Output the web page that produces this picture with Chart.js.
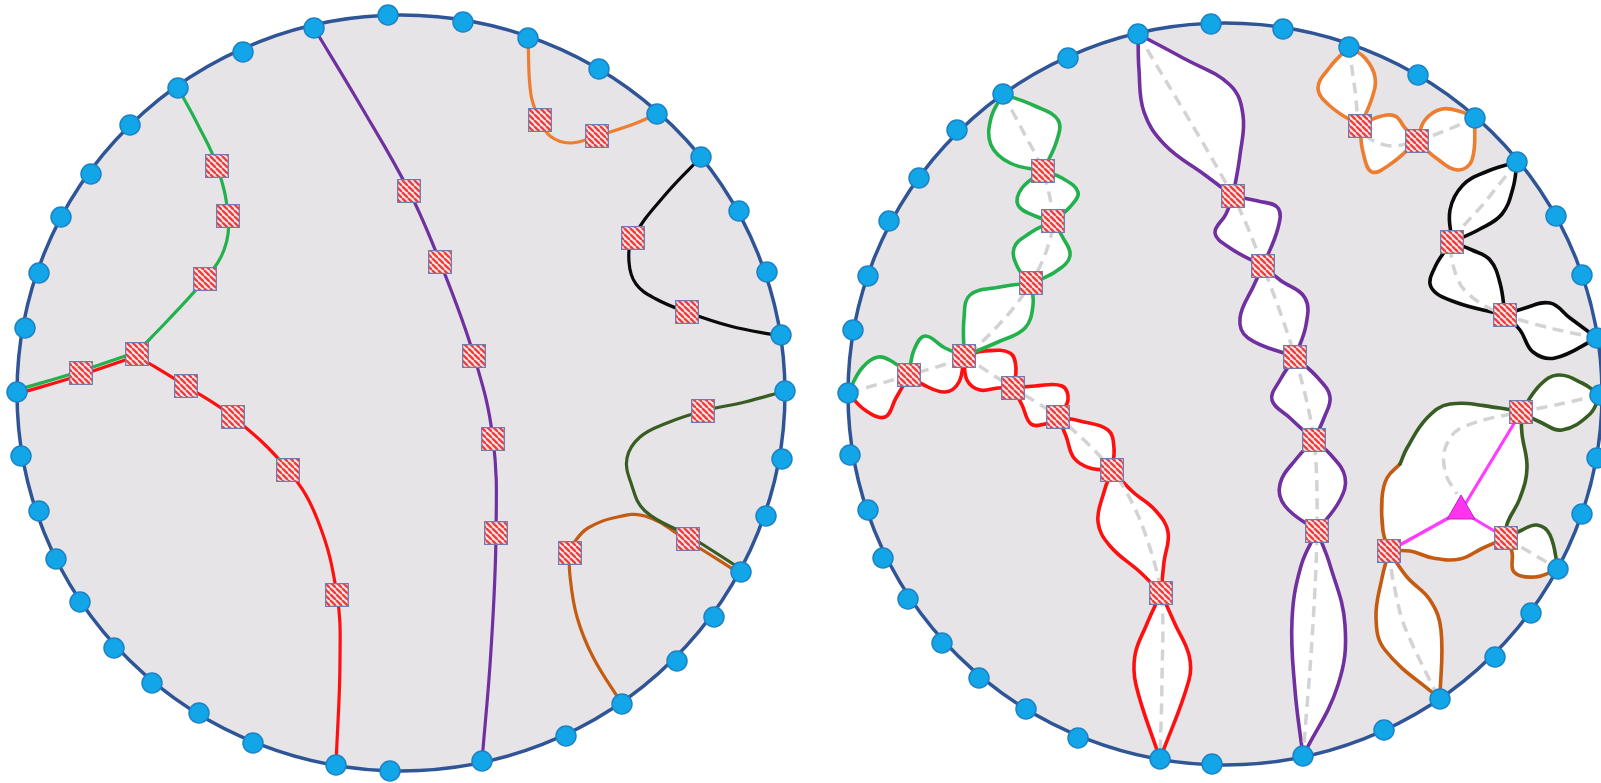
<!DOCTYPE html>
<html>
<head>
<meta charset="utf-8">
<script src="https://cdn.jsdelivr.net/npm/chart.js@4.4.0/dist/chart.umd.min.js"></script>
<style>
  html, body { margin: 0; padding: 0; background: #ffffff; }
  #wrap { width: 1601px; height: 783px; }
</style>
</head>
<body>
<div id="wrap"><canvas id="grafico"></canvas></div>
<script>
// the two discs: centre and radii (x, y)
const circleCenters = [[401, 393], [1225, 394]];
const circleRadii = [[384, 378], [377, 371]];

// boundary nodes
const dotsLeft = [
  [388, 15], [463, 22], [528, 38], [599, 69], [657, 114], [701, 157], [739, 211], [767, 272],
  [781, 335], [785, 391], [782, 459], [766, 516], [741, 572], [714, 617], [677, 661], [622, 704],
  [566, 736], [482, 761], [390, 771], [336, 765], [253, 743], [199, 713], [152, 683], [114, 648],
  [80, 602], [56, 559], [39, 511], [21, 456], [17, 392], [25, 328], [39, 273], [61, 217],
  [91, 174], [130, 125], [178, 88], [243, 52], [314, 28]
];
const dotsRight = [
  [1211, 24], [1283, 29], [1349, 47], [1418, 75], [1475, 118], [1517, 162], [1556, 216], [1582, 275],
  [1597, 338], [1600, 395], [1597, 458], [1582, 514], [1558, 569], [1531, 613], [1495, 657], [1440, 699],
  [1384, 730], [1303, 756], [1212, 764], [1160, 759], [1078, 738], [1026, 709], [979, 678], [942, 643],
  [908, 599], [883, 558], [868, 510], [850, 455], [848, 393], [853, 330], [868, 276], [889, 221],
  [919, 178], [957, 130], [1003, 94], [1068, 58], [1138, 34]
];

// hatched squares
const squaresLeft = [
  [217, 166], [228, 216], [205, 279], [137, 354], [81, 373],
  [186, 386], [233, 417], [288, 470], [337, 595],
  [409, 191], [440, 262], [474, 356], [493, 439], [496, 533],
  [540, 120], [597, 136], [633, 238], [687, 312], [703, 411], [688, 539], [570, 553]
];
const squaresRight = [
  [1043, 171], [1053, 221], [1031, 283], [964, 356], [909, 375],
  [1013, 388], [1058, 417], [1112, 470], [1161, 593],
  [1233, 196], [1263, 266], [1295, 357], [1314, 440], [1317, 531],
  [1360, 126], [1417, 141], [1452, 242], [1505, 315], [1521, 412], [1506, 538], [1389, 551]
];
const trianglePos = [[1461, 511]];

// left disc: the plain curves
const curvesLeft = [
  ['green', [[178, 88], [198, 125], [217, 166], [228, 216], [224, 250], [205, 279], [170, 318], [137, 352], [137, 352], [81, 371], [17, 390]]],
  ['red', [[17, 394], [81, 375], [137, 356], [137, 356], [186, 386], [233, 417], [288, 470], [318, 521], [337, 595], [340, 660], [336, 765]]],
  ['purple', [[314, 28], [362, 108], [409, 191], [440, 262], [474, 356], [493, 439], [496, 533], [491, 650], [482, 761]]],
  ['orange', [[528, 40], [531, 95], [540, 120], [550, 136], [570, 143], [597, 136], [634, 124], [657, 114]]],
  ['black', [[701, 157], [665, 195], [633, 238], [629, 262], [636, 284], [656, 299], [687, 312], [730, 326], [780, 336]]],
  ['darkgreen', [[785, 391], [745, 402], [703, 411], [667, 423], [640, 437], [627, 458], [631, 483], [645, 511], [689, 536], [741, 569]]],
  ['brown', [[622, 704], [593, 657], [577, 617], [570, 576], [570, 553], [576, 540], [588, 528], [613, 518], [645, 516], [688, 541], [739, 573]]]
];

// right disc: dashed skeleton
const dashedRight = [
  [[1003, 94], [1025, 135], [1043, 171], [1053, 221], [1046, 252], [1031, 283], [1005, 318], [964, 356], [909, 375], [848, 393]],
  [[964, 356], [1013, 388], [1058, 417], [1112, 470], [1140, 520], [1161, 593], [1162, 680], [1160, 759]],
  [[1138, 34], [1233, 196], [1263, 266], [1295, 357], [1314, 440], [1317, 531], [1312, 640], [1303, 756]],
  [[1349, 47], [1355, 90], [1360, 126], [1372, 140], [1392, 146], [1417, 141], [1447, 130], [1475, 118]],
  [[1517, 162], [1485, 202], [1452, 242], [1453, 265], [1462, 287], [1480, 303], [1505, 315], [1550, 328], [1597, 338]],
  [[1600, 395], [1560, 404], [1521, 412], [1480, 421], [1455, 432], [1444, 452], [1446, 475], [1457, 494]],
  [[1506, 538], [1558, 569]],
  [[1389, 551], [1447, 519]],
  [[1389, 551], [1393, 580], [1404, 625], [1438, 697]]
];
const magentaLinks = [
  [[1521, 412], [1461, 511]],
  [[1389, 551], [1461, 511]],
  [[1506, 538], [1461, 511]]
];

// right disc: lenses, two sides from end A to end B
const lenses = [
  { keys: ['green', 'green'], sides: [[[1003, 94], [991, 118], [991, 145], [1010, 163], [1043, 171]], [[1003, 94], [1035, 106], [1058, 120], [1057, 140], [1043, 171]]] },
  { keys: ['green', 'green'], sides: [[[1043, 171], [1022, 188], [1018, 205], [1035, 216], [1053, 221]], [[1043, 171], [1062, 178], [1078, 192], [1070, 207], [1053, 221]]] },
  { keys: ['green', 'green'], sides: [[[1053, 221], [1030, 233], [1014, 248], [1018, 268], [1031, 283]], [[1053, 221], [1062, 236], [1070, 256], [1055, 272], [1031, 283]]] },
  { keys: ['green', 'green'], sides: [[[1031, 283], [1000, 287], [970, 295], [964, 318], [964, 356]], [[1031, 283], [1033, 305], [1025, 328], [998, 342], [964, 356]]] },
  { keys: ['green', 'red'], sides: [[[964, 356], [945, 348], [925, 336], [914, 350], [909, 375]], [[964, 356], [959, 382], [945, 392], [922, 384], [909, 375]]] },
  { keys: ['green', 'red'], sides: [[[909, 375], [893, 362], [878, 357], [862, 368], [848, 393]], [[909, 375], [896, 398], [885, 417], [865, 410], [848, 393]]] },
  { keys: ['red', 'red'], sides: [[[964, 356], [985, 351], [1010, 353], [1016, 368], [1013, 388]], [[964, 356], [967, 380], [980, 390], [998, 388], [1013, 388]]] },
  { keys: ['red', 'red'], sides: [[[1013, 388], [1035, 386], [1062, 386], [1068, 400], [1058, 417]], [[1013, 388], [1022, 405], [1031, 424], [1045, 424], [1058, 417]]] },
  { keys: ['red', 'red'], sides: [[[1058, 417], [1080, 421], [1108, 430], [1114, 448], [1112, 470]], [[1058, 417], [1066, 436], [1074, 458], [1090, 468], [1112, 470]]] },
  { keys: ['red', 'red'], sides: [[[1112, 470], [1104, 492], [1098, 522], [1110, 546], [1140, 572], [1161, 593]], [[1112, 470], [1133, 492], [1155, 510], [1168, 532], [1164, 562], [1161, 593]]] },
  { keys: ['red', 'red'], sides: [[[1161, 593], [1146, 626], [1135, 655], [1136, 685], [1160, 759]], [[1161, 593], [1175, 624], [1189, 655], [1189, 680], [1160, 759]]] },
  { keys: ['purple', 'purple'], sides: [[[1138, 34], [1139, 70], [1144, 112], [1165, 145], [1205, 175], [1233, 196]], [[1138, 34], [1183, 58], [1230, 85], [1243, 115], [1240, 155], [1233, 196]]] },
  { keys: ['purple', 'purple'], sides: [[[1233, 196], [1258, 201], [1278, 208], [1278, 228], [1263, 266]], [[1233, 196], [1226, 214], [1215, 233], [1230, 248], [1263, 266]]] },
  { keys: ['purple', 'purple'], sides: [[[1263, 266], [1280, 280], [1305, 298], [1306, 325], [1295, 357]], [[1263, 266], [1254, 285], [1240, 318], [1248, 338], [1295, 357]]] },
  { keys: ['purple', 'purple'], sides: [[[1295, 357], [1280, 380], [1272, 400], [1290, 418], [1314, 440]], [[1295, 357], [1318, 378], [1330, 397], [1324, 418], [1314, 440]]] },
  { keys: ['purple', 'purple'], sides: [[[1314, 440], [1331, 455], [1345, 477], [1340, 500], [1317, 531]], [[1314, 440], [1297, 458], [1280, 484], [1285, 506], [1317, 531]]] },
  { keys: ['purple', 'purple'], sides: [[[1317, 531], [1301, 566], [1292, 620], [1295, 690], [1303, 756]], [[1317, 531], [1330, 565], [1345, 625], [1338, 685], [1303, 756]]] },
  { keys: ['orange', 'orange'], sides: [[[1349, 47], [1330, 67], [1318, 88], [1330, 106], [1360, 126]], [[1349, 47], [1365, 58], [1375, 77], [1372, 98], [1360, 126]]] },
  { keys: ['orange', 'orange'], sides: [[[1360, 126], [1378, 117], [1395, 116], [1405, 128], [1417, 141]], [[1360, 126], [1363, 152], [1372, 172], [1392, 163], [1417, 141]]] },
  { keys: ['orange', 'orange'], sides: [[[1417, 141], [1425, 120], [1442, 109], [1462, 112], [1475, 118]], [[1417, 141], [1436, 158], [1458, 170], [1472, 160], [1475, 118]]] },
  { keys: ['black', 'black'], sides: [[[1517, 162], [1488, 171], [1463, 185], [1450, 210], [1452, 242]], [[1517, 162], [1513, 188], [1502, 214], [1480, 229], [1452, 242]]] },
  { keys: ['black', 'black'], sides: [[[1452, 242], [1436, 265], [1431, 287], [1455, 302], [1505, 315]], [[1452, 242], [1472, 250], [1490, 260], [1500, 283], [1505, 315]]] },
  { keys: ['black', 'black'], sides: [[[1505, 315], [1522, 309], [1550, 303], [1570, 318], [1597, 338]], [[1505, 315], [1520, 330], [1533, 352], [1555, 358], [1597, 338]]] },
  { keys: ['darkgreen', 'darkgreen'], sides: [[[1521, 412], [1540, 385], [1558, 375], [1582, 383], [1600, 395]], [[1521, 412], [1540, 422], [1562, 430], [1590, 414], [1600, 395]]] },
  { keys: ['darkgreen', 'brown'], sides: [[[1506, 538], [1520, 531], [1537, 525], [1550, 535], [1558, 569]], [[1506, 538], [1512, 552], [1514, 572], [1535, 577], [1558, 569]]] },
  { keys: ['brown', 'brown'], sides: [[[1389, 551], [1382, 578], [1376, 618], [1385, 650], [1440, 699]], [[1389, 551], [1407, 577], [1430, 600], [1441, 630], [1440, 699]]] }
];

// the three-armed region round the triangle
const bigRegion = [
  ['darkgreen', [[1521, 412], [1500, 408], [1450, 404], [1427, 418], [1407, 448], [1400, 464]]],
  ['brown', [[1400, 464], [1387, 478], [1382, 498], [1383, 531], [1389, 551]]],
  ['brown', [[1389, 551], [1410, 551], [1433, 558], [1460, 559], [1483, 548], [1506, 538]]],
  ['darkgreen', [[1506, 538], [1507, 524], [1520, 498], [1527, 468], [1522, 434], [1521, 412]]]
];

const colours = {
  green: '#22b14c',
  red: '#ff1010',
  purple: '#7030a0',
  orange: '#ed7d31',
  black: '#0a0a0a',
  darkgreen: '#375d23',
  brown: '#c55a11'
};

function toXY(pts) {
  return pts.map(p => ({ x: p[0], y: p[1] }));
}

function hatch() {
  let s = 6;
  let c = document.createElement('canvas');
  c.width = s;
  c.height = s;
  let g = c.getContext('2d');
  g.fillStyle = '#fde6e6';
  g.fillRect(0, 0, s, s);
  g.strokeStyle = '#ee3e3e';
  g.lineWidth = 2.3;
  for (let k = -1; k <= 1; k++) {
    g.beginPath();
    g.moveTo(k * s, 0);
    g.lineTo(k * s + s, s);
    g.stroke();
  }
  return g.createPattern(c, 'repeat');
}

function curve(pts, colour, width, order, extra) {
  return Object.assign({
    data: toXY(pts),
    borderColor: colour,
    borderWidth: width,
    borderCapStyle: 'round',
    borderJoinStyle: 'round',
    pointRadius: 0,
    tension: 0.4,
    fill: false,
    order: order
  }, extra || {});
}

function whiteShape(pts) {
  return curve(pts, 'rgba(0,0,0,0)', 0, 60, { fill: 'shape', backgroundColor: '#ffffff' });
}

let datasets = [];

// lens fills
lenses.forEach(l => {
  datasets.push(whiteShape(l.sides[0].concat(l.sides[1].slice().reverse())));
});
let regionPts = [];
bigRegion.forEach(part => { regionPts = regionPts.concat(part[1]); });
datasets.push(whiteShape(regionPts));

// left curves
curvesLeft.forEach(c => datasets.push(curve(c[1], colours[c[0]], 3.2, 50)));

// lens outlines
lenses.forEach(l => {
  datasets.push(curve(l.sides[0], colours[l.keys[0]], 3.6, 40));
  datasets.push(curve(l.sides[1], colours[l.keys[1]], 3.6, 40));
});
bigRegion.forEach(part => datasets.push(curve(part[1], colours[part[0]], 3.6, 40)));

// dashed skeleton and magenta links
dashedRight.forEach(d => datasets.push(curve(d, '#d3d3d3', 3.5, 30, { borderDash: [11, 7], borderCapStyle: 'butt', tension: 0.3 })));
magentaLinks.forEach(m => datasets.push(curve(m, '#ff3cff', 3.2, 20, { tension: 0 })));

// nodes
datasets.push({
  data: toXY(dotsLeft.concat(dotsRight)),
  showLine: false,
  pointStyle: 'circle',
  pointRadius: 10,
  pointBackgroundColor: '#12a6e8',
  pointBorderColor: '#1b83c6',
  pointBorderWidth: 1.5,
  order: 10
});
datasets.push({
  data: toXY(squaresLeft.concat(squaresRight)),
  showLine: false,
  pointStyle: 'rect',
  pointRadius: 16,
  pointBackgroundColor: hatch(),
  pointBorderColor: '#7479ab',
  pointBorderWidth: 1.3,
  order: 5
});
datasets.push({
  data: toXY(trianglePos),
  showLine: false,
  pointStyle: 'triangle',
  pointRadius: 16,
  pointBackgroundColor: '#ff33f0',
  pointBorderColor: '#c020c0',
  pointBorderWidth: 1,
  order: 1
});

// grey discs with blue rim, drawn through the scales
const discs = {
  id: 'discs',
  beforeDatasetsDraw(chart) {
    let ctx = chart.ctx;
    let sx = chart.scales.x;
    let sy = chart.scales.y;
    ctx.save();
    circleCenters.forEach((c, i) => {
      let px = sx.getPixelForValue(c[0]);
      let py = sy.getPixelForValue(c[1]);
      let rx = Math.abs(sx.getPixelForValue(c[0] + circleRadii[i][0]) - px);
      let ry = Math.abs(sy.getPixelForValue(c[1] + circleRadii[i][1]) - py);
      ctx.beginPath();
      ctx.ellipse(px, py, rx, ry, 0, 0, Math.PI * 2);
      ctx.fillStyle = '#e6e4e6';
      ctx.fill();
      ctx.lineWidth = 3.5;
      ctx.strokeStyle = '#2f5597';
      ctx.stroke();
    });
    ctx.restore();
  }
};

new Chart(document.getElementById('grafico'), {
  type: 'line',
  data: { datasets: datasets },
  options: {
    responsive: true,
    maintainAspectRatio: false,
    animation: false,
    events: [],
    layout: { padding: 0, autoPadding: false },
    scales: {
      x: { type: 'linear', min: 0, max: 1601, display: false },
      y: { type: 'linear', min: 0, max: 783, reverse: true, display: false }
    },
    plugins: {
      legend: { display: false },
      tooltip: { enabled: false }
    }
  },
  plugins: [discs]
});
</script>
</body>
</html>
